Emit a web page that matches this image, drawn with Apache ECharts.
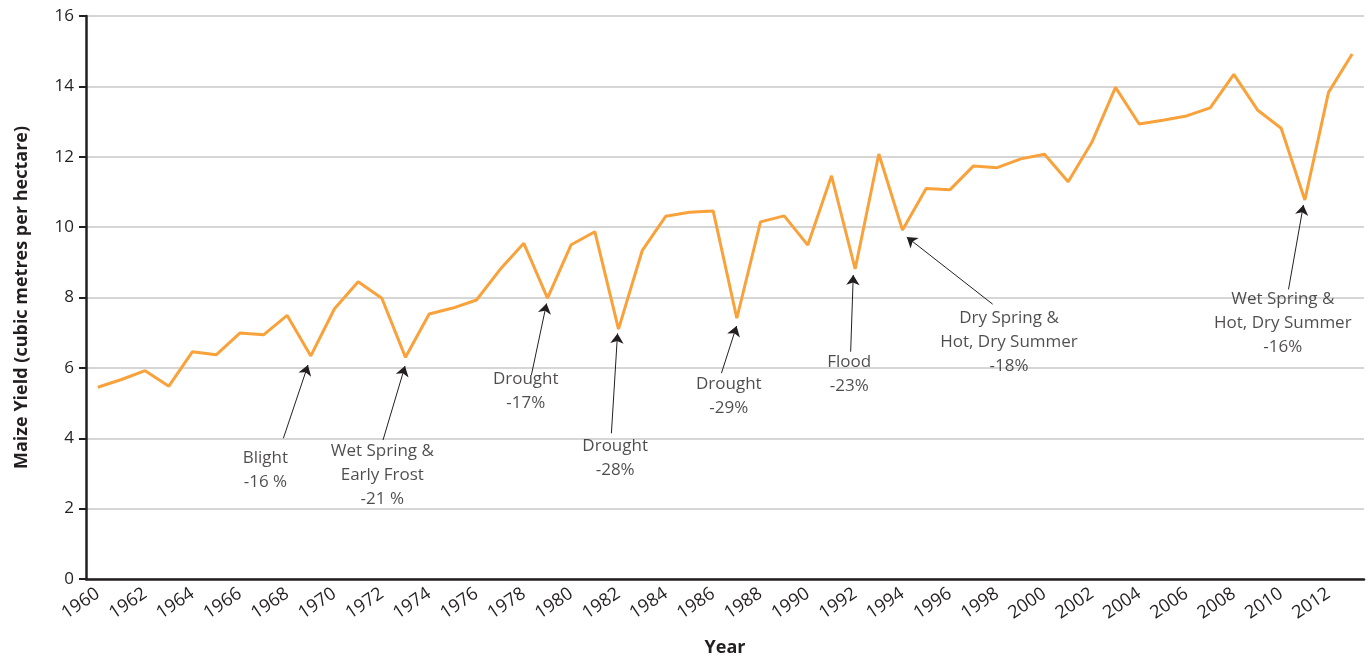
<!DOCTYPE html>
<html>
<head>
<meta charset="utf-8">
<script src="https://cdn.jsdelivr.net/npm/echarts@6/dist/echarts.min.js"></script>
<style>
  html, body { margin: 0; padding: 0; background: #fff; }
  #chart { width: 1371px; height: 662px; }
</style>
</head>
<body>
<div id="chart"></div>
<script>
  // years 1960..2013, yield
  var firstYear = 1960;
  var yieldValues = [
    5.45, 5.67, 5.92, 5.48, 6.46, 6.37, 6.99, 6.94, 7.49, 6.34,
    7.68, 8.45, 7.98, 6.30, 7.53, 7.70, 7.93, 8.80, 9.54, 7.98,
    9.50, 9.87, 7.10, 9.33, 10.31, 10.42, 10.46, 7.41, 10.15, 10.32,
    9.49, 11.46, 8.81, 12.08, 9.92, 11.10, 11.06, 11.74, 11.69, 11.94,
    12.07, 11.29, 12.41, 13.97, 12.93, 13.04, 13.16, 13.39, 14.34, 13.33,
    12.81, 10.77, 13.83, 14.92
  ];
  var yearLabels = [1960, 1962, 1964, 1966, 1968, 1970, 1972, 1974, 1976, 1978,
    1980, 1982, 1984, 1986, 1988, 1990, 1992, 1994, 1996, 1998,
    2000, 2002, 2004, 2006, 2008, 2010, 2012];
  var yTicks = [0, 2, 4, 6, 8, 10, 12, 14, 16];

  // annotations: text, where the text sits, arrow tail, arrow tip (year, yield)
  var noteText = [
    'Blight\n-16 %',
    'Wet Spring &\nEarly Frost\n-21 %',
    'Drought\n-17%',
    'Drought\n-28%',
    'Drought\n-29%',
    'Flood\n-23%',
    'Dry Spring &\nHot, Dry Summer\n-18%',
    'Wet Spring &\nHot, Dry Summer\n-16%'
  ];
  var noteAt = [[1967.08, 3.10], [1972.02, 2.96], [1978.08, 5.33], [1981.86, 3.44],
    [1986.66, 5.19], [1991.75, 5.83], [1998.50, 6.73], [2010.07, 7.27]];
  var arrowFrom = [[1967.84, 4.00], [1972.05, 3.95], [1978.32, 5.80], [1981.70, 4.14],
    [1986.35, 5.85], [1991.81, 6.46], [1997.81, 7.81], [2010.31, 8.23]];
  var arrowTo = [[1968.88, 6.08], [1972.98, 6.05], [1978.96, 7.83], [1981.96, 6.98],
    [1986.99, 7.19], [1991.92, 8.64], [1994.18, 9.72], [2010.94, 10.63]];

  var ink = '#231F20';
  var font = '"Open Sans", sans-serif';

  var lineData = yieldValues.map(function (v, i) { return [firstYear + i, v]; });
  var noteData = noteText.map(function (t, i) { return { name: t, value: noteAt[i] }; });
  var arrowData = arrowFrom.map(function (p, i) { return [{ coord: p }, { coord: arrowTo[i] }]; });

  var chart = echarts.init(document.getElementById('chart'));
  chart.setOption({
    animation: false,
    grid: { left: 86, right: 7, top: 16, bottom: 83 },
    xAxis: {
      type: 'value',
      min: firstYear - 0.5,
      max: firstYear + yieldValues.length - 0.5,
      name: 'Year',
      nameLocation: 'middle',
      nameGap: 60,
      nameTextStyle: { fontFamily: font, fontWeight: 'bold', fontSize: 18, color: ink },
      axisLine: { lineStyle: { color: ink, width: 2.5 } },
      axisTick: { show: false },
      splitLine: { show: false },
      axisLabel: {
        customValues: yearLabels,
        rotate: 34,
        margin: 13,
        fontFamily: font,
        fontSize: 18,
        color: ink,
        formatter: function (v) { return String(v); }
      }
    },
    yAxis: {
      type: 'value',
      min: 0,
      max: 16,
      interval: 2,
      name: 'Maize Yield (cubic metres per hectare)',
      nameLocation: 'middle',
      nameGap: 55,
      nameTextStyle: { fontFamily: font, fontWeight: 'bold', fontSize: 18, color: ink },
      axisLine: { show: true, lineStyle: { color: ink, width: 2.5 } },
      axisTick: { show: true, length: 7, lineStyle: { color: ink, width: 2 } },
      axisLabel: { margin: 12, fontFamily: font, fontSize: 17, color: ink,
        customValues: yTicks },
      splitLine: { lineStyle: { color: '#C8C8C8', width: 1.5 } }
    },
    series: [
      {
        type: 'line',
        data: lineData,
        symbol: 'none',
        lineStyle: { color: '#F9A23B', width: 3 },
        z: 3,
        markLine: {
          silent: true,
          symbol: ['none', 'arrow'],
          symbolSize: 10,
          symbolOffset: 0,
          lineStyle: { color: ink, width: 1, type: 'solid' },
          itemStyle: { color: ink },
          label: { show: false },
          data: arrowData
        }
      },
      {
        type: 'scatter',
        data: noteData,
        symbolSize: 0,
        silent: true,
        label: {
          show: true,
          position: 'inside',
          formatter: function (p) { return p.name; },
          fontFamily: font,
          fontSize: 17,
          lineHeight: 24,
          color: ink,
          align: 'center',
          verticalAlign: 'middle'
        }
      }
    ]
  });
</script>
</body>
</html>
